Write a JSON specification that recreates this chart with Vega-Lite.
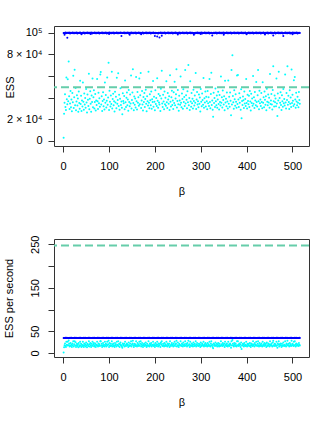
{
"$schema": "https://vega.github.io/schema/vega-lite/v6.json",
"padding": {"left": 2, "top": 25, "right": 28, "bottom": 18},
"bounds": "flush",
"spacing": 93,
"background": "white",
"config": {
 "view": {"stroke": "#333", "strokeWidth": 1},
 "axis": {"labelFont": "Liberation Sans", "titleFont": "Liberation Sans", "labelFontSize": 11, "titleFontSize": 11, "titleFontWeight": "normal", "labelColor": "#000", "titleColor": "#000", "tickColor": "#333", "domain": false, "grid": false, "tickSize": 6}
},
"datasets": {"d": [
{"b":1,"c":3000,"d":1.2,"u":99800,"v":34.6},{"b":2,"c":25100,"d":13,"u":99600,"v":34.4},{"b":3,"c":35200,"d":18,"u":98200,"v":34.7},{"b":4,"c":43200,"d":22,"u":99700,"v":34.5},
{"b":5,"c":31500,"d":16,"u":100100,"v":34.8},{"b":6,"c":28700,"d":14,"u":99500,"v":34.3},{"b":7,"c":58600,"d":26,"u":99800,"v":34.6},{"b":8,"c":38600,"d":19,"u":99900,"v":34.9},
{"b":9,"c":33900,"d":17,"u":95300,"v":34.5},{"b":10,"c":57000,"d":26,"u":100000,"v":34.7},{"b":11,"c":36800,"d":18,"u":99700,"v":34.6},{"b":12,"c":73500,"d":29,"u":99600,"v":34.4},
{"b":13,"c":41300,"d":21,"u":100200,"v":34.7},{"b":14,"c":29600,"d":15,"u":99800,"v":34.5},{"b":15,"c":34700,"d":17,"u":99300,"v":34.8},{"b":16,"c":46200,"d":23,"u":99900,"v":34.3},
{"b":17,"c":31200,"d":16,"u":99800,"v":34.6},{"b":18,"c":38200,"d":19,"u":99600,"v":34.9},{"b":19,"c":27400,"d":14,"u":99900,"v":34.5},{"b":20,"c":44300,"d":22,"u":99700,"v":34.7},
{"b":21,"c":35800,"d":18,"u":100100,"v":34.6},{"b":22,"c":60300,"d":27,"u":99500,"v":34.4},{"b":23,"c":30400,"d":15,"u":99800,"v":34.7},{"b":24,"c":40400,"d":20,"u":99900,"v":34.5},
{"b":25,"c":65800,"d":27,"u":99400,"v":34.8},{"b":26,"c":33100,"d":17,"u":100000,"v":34.3},{"b":27,"c":49000,"d":25,"u":99700,"v":34.6},{"b":28,"c":28300,"d":14,"u":99600,"v":34.9},
{"b":29,"c":36500,"d":18,"u":100200,"v":34.5},{"b":30,"c":42300,"d":21,"u":99800,"v":34.7},{"b":31,"c":32700,"d":16,"u":99300,"v":34.6},{"b":32,"c":39300,"d":20,"u":99900,"v":34.4},
{"b":33,"c":26900,"d":13,"u":99800,"v":34.7},{"b":34,"c":45700,"d":23,"u":99600,"v":34.5},{"b":35,"c":35100,"d":18,"u":99900,"v":34.8},{"b":36,"c":29800,"d":15,"u":99700,"v":34.3},
{"b":37,"c":55600,"d":26,"u":100100,"v":34.6},{"b":38,"c":34200,"d":17,"u":99500,"v":34.9},{"b":39,"c":41700,"d":21,"u":99800,"v":34.5},{"b":40,"c":27800,"d":14,"u":98500,"v":34.7},
{"b":41,"c":37300,"d":19,"u":99400,"v":34.6},{"b":42,"c":31900,"d":16,"u":100000,"v":34.4},{"b":43,"c":54000,"d":26,"u":99700,"v":34.7},{"b":44,"c":36300,"d":18,"u":99600,"v":34.5},
{"b":45,"c":28900,"d":14,"u":100200,"v":34.8},{"b":46,"c":43900,"d":22,"u":99800,"v":34.3},{"b":47,"c":33600,"d":17,"u":99300,"v":34.6},{"b":48,"c":39700,"d":20,"u":99900,"v":34.9},
{"b":49,"c":30700,"d":15,"u":99800,"v":34.5},{"b":50,"c":47900,"d":24,"u":99600,"v":34.7},{"b":51,"c":35600,"d":18,"u":99900,"v":34.6},{"b":52,"c":26400,"d":13,"u":99700,"v":34.4},
{"b":53,"c":42900,"d":21,"u":100100,"v":34.7},{"b":54,"c":38000,"d":19,"u":99500,"v":34.5},{"b":55,"c":32300,"d":16,"u":99800,"v":34.8},{"b":56,"c":62000,"d":27,"u":99900,"v":34.3},
{"b":57,"c":29300,"d":15,"u":99400,"v":34.6},{"b":58,"c":39000,"d":20,"u":100000,"v":34.9},{"b":59,"c":46000,"d":23,"u":99700,"v":34.5},{"b":60,"c":34500,"d":17,"u":98800,"v":34.7},
{"b":61,"c":27100,"d":14,"u":100200,"v":34.6},{"b":62,"c":41900,"d":21,"u":99800,"v":34.4},{"b":63,"c":36100,"d":18,"u":99300,"v":34.7},{"b":64,"c":57700,"d":26,"u":99900,"v":34.5},
{"b":65,"c":31100,"d":16,"u":99800,"v":34.8},{"b":66,"c":40500,"d":20,"u":99600,"v":34.3},{"b":67,"c":46900,"d":23,"u":99900,"v":34.6},{"b":68,"c":30100,"d":15,"u":99700,"v":34.9},
{"b":69,"c":35900,"d":18,"u":100100,"v":34.5},{"b":70,"c":43400,"d":22,"u":99500,"v":34.7},{"b":71,"c":28200,"d":14,"u":99800,"v":34.6},{"b":72,"c":37500,"d":19,"u":99900,"v":34.4},
{"b":73,"c":33200,"d":17,"u":99400,"v":34.7},{"b":74,"c":57300,"d":26,"u":100000,"v":34.5},{"b":75,"c":36600,"d":18,"u":99700,"v":34.8},{"b":76,"c":29500,"d":15,"u":99600,"v":34.3},
{"b":77,"c":44500,"d":22,"u":100200,"v":34.6},{"b":78,"c":34800,"d":17,"u":99800,"v":34.9},{"b":79,"c":39500,"d":20,"u":99300,"v":34.5},{"b":80,"c":31600,"d":16,"u":99900,"v":34.7},
{"b":81,"c":61400,"d":27,"u":99800,"v":34.6},{"b":82,"c":63700,"d":27,"u":99600,"v":34.4},{"b":83,"c":33700,"d":17,"u":99900,"v":34.7},{"b":84,"c":41200,"d":21,"u":99700,"v":34.5},
{"b":85,"c":27600,"d":14,"u":100100,"v":34.8},{"b":86,"c":36900,"d":18,"u":99500,"v":34.3},{"b":87,"c":45100,"d":23,"u":99800,"v":34.6},{"b":88,"c":32100,"d":16,"u":99900,"v":34.9},
{"b":89,"c":38400,"d":19,"u":99400,"v":34.5},{"b":90,"c":29100,"d":15,"u":100000,"v":34.7},{"b":91,"c":54000,"d":26,"u":99700,"v":34.6},{"b":92,"c":35300,"d":18,"u":99600,"v":34.4},
{"b":93,"c":42500,"d":21,"u":100200,"v":34.7},{"b":94,"c":30900,"d":15,"u":99800,"v":34.5},{"b":95,"c":37100,"d":19,"u":99300,"v":34.8},{"b":96,"c":58600,"d":26,"u":99900,"v":34.3},
{"b":97,"c":33400,"d":17,"u":99800,"v":34.6},{"b":98,"c":40100,"d":20,"u":99600,"v":34.9},{"b":99,"c":72300,"d":28,"u":99900,"v":34.5},{"b":100,"c":28600,"d":14,"u":98700,"v":34.7},
{"b":101,"c":46500,"d":23,"u":100100,"v":34.6},{"b":102,"c":36200,"d":18,"u":99500,"v":34.4},{"b":103,"c":31800,"d":16,"u":99800,"v":34.7},{"b":104,"c":42100,"d":21,"u":99900,"v":34.5},
{"b":105,"c":34100,"d":17,"u":99400,"v":34.8},{"b":106,"c":63900,"d":27,"u":100000,"v":34.3},{"b":107,"c":29900,"d":15,"u":99700,"v":34.6},{"b":108,"c":38700,"d":19,"u":99600,"v":34.9},
{"b":109,"c":43600,"d":22,"u":100200,"v":34.5},{"b":110,"c":32900,"d":16,"u":99800,"v":34.7},{"b":111,"c":36700,"d":18,"u":99300,"v":34.6},{"b":112,"c":27300,"d":14,"u":99900,"v":34.4},
{"b":113,"c":45500,"d":23,"u":99800,"v":34.7},{"b":114,"c":35500,"d":18,"u":99600,"v":34.5},{"b":115,"c":40800,"d":20,"u":99900,"v":34.8},{"b":116,"c":30300,"d":15,"u":99700,"v":34.3},
{"b":117,"c":58500,"d":26,"u":100100,"v":34.6},{"b":118,"c":34400,"d":17,"u":99500,"v":34.9},{"b":119,"c":37800,"d":19,"u":99800,"v":34.5},{"b":120,"c":62500,"d":27,"u":99900,"v":34.7},
{"b":121,"c":32400,"d":16,"u":99400,"v":34.6},{"b":122,"c":42700,"d":21,"u":100000,"v":34.4},{"b":123,"c":28800,"d":14,"u":99700,"v":34.7},{"b":124,"c":39100,"d":20,"u":99600,"v":34.5},
{"b":125,"c":48600,"d":24,"u":100200,"v":34.8},{"b":126,"c":33300,"d":17,"u":99800,"v":34.3},{"b":127,"c":36400,"d":18,"u":97000,"v":34.6},{"b":128,"c":30600,"d":15,"u":99900,"v":34.9},
{"b":129,"c":24600,"d":12,"u":99800,"v":34.5},{"b":130,"c":44000,"d":22,"u":99600,"v":34.7},{"b":131,"c":37000,"d":19,"u":99900,"v":34.6},{"b":132,"c":34900,"d":17,"u":99700,"v":34.4},
{"b":133,"c":41600,"d":21,"u":100100,"v":34.7},{"b":134,"c":29400,"d":15,"u":99500,"v":34.5},{"b":135,"c":55900,"d":26,"u":99800,"v":34.8},{"b":136,"c":35700,"d":18,"u":99900,"v":34.3},
{"b":137,"c":31300,"d":16,"u":99400,"v":34.6},{"b":138,"c":39900,"d":20,"u":100000,"v":34.9},{"b":139,"c":44800,"d":22,"u":99700,"v":34.5},{"b":140,"c":33000,"d":17,"u":99600,"v":34.7},
{"b":141,"c":38300,"d":19,"u":100200,"v":34.6},{"b":142,"c":27900,"d":14,"u":99800,"v":34.4},{"b":143,"c":47100,"d":24,"u":99300,"v":34.7},{"b":144,"c":36000,"d":18,"u":99900,"v":34.5},
{"b":145,"c":32000,"d":16,"u":98000,"v":34.8},{"b":146,"c":43000,"d":22,"u":99600,"v":34.3},{"b":147,"c":34600,"d":17,"u":99900,"v":34.6},{"b":148,"c":60500,"d":27,"u":99700,"v":34.9},
{"b":149,"c":30000,"d":15,"u":100100,"v":34.5},{"b":150,"c":37900,"d":19,"u":99500,"v":34.7},{"b":151,"c":44700,"d":22,"u":99800,"v":34.6},{"b":152,"c":66200,"d":28,"u":99900,"v":34.4},
{"b":153,"c":35000,"d":18,"u":99400,"v":34.7},{"b":154,"c":28500,"d":14,"u":100000,"v":34.5},{"b":155,"c":41000,"d":21,"u":99700,"v":34.8},{"b":156,"c":33500,"d":17,"u":99600,"v":34.3},
{"b":157,"c":39200,"d":20,"u":100200,"v":34.6},{"b":158,"c":31000,"d":16,"u":99800,"v":34.9},{"b":159,"c":59200,"d":27,"u":99300,"v":34.5},{"b":160,"c":36600,"d":18,"u":99900,"v":34.7},
{"b":161,"c":29000,"d":15,"u":99800,"v":34.6},{"b":162,"c":45200,"d":23,"u":99600,"v":34.4},{"b":163,"c":35400,"d":18,"u":99900,"v":34.7},{"b":164,"c":40300,"d":20,"u":99700,"v":34.5},
{"b":165,"c":32600,"d":16,"u":100100,"v":34.8},{"b":166,"c":57700,"d":26,"u":99500,"v":34.3},{"b":167,"c":34000,"d":17,"u":99800,"v":34.6},{"b":168,"c":42200,"d":21,"u":99900,"v":34.9},
{"b":169,"c":62800,"d":27,"u":99400,"v":34.5},{"b":170,"c":30500,"d":15,"u":98600,"v":34.7},{"b":171,"c":37400,"d":19,"u":99700,"v":34.6},{"b":172,"c":46100,"d":23,"u":99600,"v":34.4},
{"b":173,"c":33800,"d":17,"u":100200,"v":34.7},{"b":174,"c":28100,"d":14,"u":99800,"v":34.5},{"b":175,"c":40600,"d":20,"u":99300,"v":34.8},{"b":176,"c":36100,"d":18,"u":99900,"v":34.3},
{"b":177,"c":44400,"d":22,"u":99800,"v":34.6},{"b":178,"c":31400,"d":16,"u":99600,"v":34.9},{"b":179,"c":38800,"d":19,"u":99900,"v":34.5},{"b":180,"c":47400,"d":24,"u":99700,"v":34.7},
{"b":181,"c":34300,"d":17,"u":100100,"v":34.6},{"b":182,"c":27500,"d":14,"u":99500,"v":34.4},{"b":183,"c":41400,"d":21,"u":99800,"v":34.7},{"b":184,"c":36800,"d":18,"u":99900,"v":34.5},
{"b":185,"c":32800,"d":16,"u":99400,"v":34.8},{"b":186,"c":63900,"d":27,"u":100000,"v":34.3},{"b":187,"c":35200,"d":18,"u":99700,"v":34.6},{"b":188,"c":30200,"d":15,"u":99600,"v":34.9},
{"b":189,"c":43100,"d":22,"u":100200,"v":34.5},{"b":190,"c":37700,"d":19,"u":99800,"v":34.7},{"b":191,"c":33100,"d":17,"u":99300,"v":34.6},{"b":192,"c":45800,"d":23,"u":99900,"v":34.4},
{"b":193,"c":29700,"d":15,"u":99800,"v":34.7},{"b":194,"c":38600,"d":19,"u":99600,"v":34.5},{"b":195,"c":35900,"d":18,"u":99900,"v":34.8},{"b":196,"c":55500,"d":26,"u":99700,"v":34.3},
{"b":197,"c":31700,"d":16,"u":100100,"v":34.6},{"b":198,"c":40900,"d":20,"u":99500,"v":34.9},{"b":199,"c":36300,"d":18,"u":99800,"v":34.5},{"b":200,"c":28400,"d":14,"u":97000,"v":34.7},
{"b":201,"c":46800,"d":23,"u":99400,"v":34.6},{"b":202,"c":34100,"d":17,"u":100000,"v":34.4},{"b":203,"c":39600,"d":20,"u":99700,"v":34.7},{"b":204,"c":32200,"d":16,"u":99600,"v":34.5},
{"b":205,"c":57900,"d":26,"u":96500,"v":34.8},{"b":206,"c":37100,"d":19,"u":99800,"v":34.3},{"b":207,"c":30800,"d":15,"u":99300,"v":34.6},{"b":208,"c":43500,"d":22,"u":99900,"v":34.9},
{"b":209,"c":35600,"d":18,"u":99800,"v":34.5},{"b":210,"c":33600,"d":17,"u":95500,"v":34.7},{"b":211,"c":41800,"d":21,"u":99900,"v":34.6},{"b":212,"c":27700,"d":14,"u":99700,"v":34.4},
{"b":213,"c":48300,"d":24,"u":100100,"v":34.7},{"b":214,"c":39300,"d":20,"u":99500,"v":34.5},{"b":215,"c":64800,"d":27,"u":97200,"v":34.8},{"b":216,"c":34700,"d":17,"u":99900,"v":34.3},
{"b":217,"c":31500,"d":16,"u":99400,"v":34.6},{"b":218,"c":42600,"d":21,"u":100000,"v":34.9},{"b":219,"c":36500,"d":18,"u":99700,"v":34.5},{"b":220,"c":29200,"d":15,"u":99600,"v":34.7},
{"b":221,"c":45600,"d":23,"u":100200,"v":34.6},{"b":222,"c":33900,"d":17,"u":99800,"v":34.4},{"b":223,"c":40000,"d":20,"u":99300,"v":34.7},{"b":224,"c":32500,"d":16,"u":99900,"v":34.5},
{"b":225,"c":55200,"d":26,"u":99800,"v":34.8},{"b":226,"c":35800,"d":18,"u":99600,"v":34.3},{"b":227,"c":30400,"d":15,"u":99900,"v":34.6},{"b":228,"c":44200,"d":22,"u":99700,"v":34.9},
{"b":229,"c":38200,"d":19,"u":100100,"v":34.5},{"b":230,"c":34400,"d":17,"u":99500,"v":34.7},{"b":231,"c":41300,"d":21,"u":99800,"v":34.6},{"b":232,"c":28700,"d":14,"u":99900,"v":34.4},
{"b":233,"c":60800,"d":27,"u":99400,"v":34.7},{"b":234,"c":36200,"d":18,"u":100000,"v":34.5},{"b":235,"c":31900,"d":16,"u":99700,"v":34.8},{"b":236,"c":40400,"d":20,"u":99600,"v":34.3},
{"b":237,"c":46400,"d":23,"u":100200,"v":34.6},{"b":238,"c":33200,"d":17,"u":99800,"v":34.9},{"b":239,"c":37500,"d":19,"u":99300,"v":34.5},{"b":240,"c":29600,"d":15,"u":99900,"v":34.7},
{"b":241,"c":44900,"d":22,"u":99800,"v":34.6},{"b":242,"c":35100,"d":18,"u":99600,"v":34.4},{"b":243,"c":54800,"d":26,"u":99900,"v":34.7},{"b":244,"c":32900,"d":16,"u":99700,"v":34.5},
{"b":245,"c":39200,"d":20,"u":100100,"v":34.8},{"b":246,"c":43200,"d":22,"u":99500,"v":34.3},{"b":247,"c":66200,"d":28,"u":99800,"v":34.6},{"b":248,"c":30900,"d":15,"u":99900,"v":34.9},
{"b":249,"c":36900,"d":18,"u":99400,"v":34.5},{"b":250,"c":47000,"d":24,"u":98400,"v":34.7},{"b":251,"c":34000,"d":17,"u":99700,"v":34.6},{"b":252,"c":28000,"d":14,"u":99600,"v":34.4},
{"b":253,"c":41700,"d":21,"u":100200,"v":34.7},{"b":254,"c":37300,"d":19,"u":99800,"v":34.5},{"b":255,"c":33400,"d":17,"u":99300,"v":34.8},{"b":256,"c":59600,"d":27,"u":99900,"v":34.3},
{"b":257,"c":35400,"d":18,"u":99800,"v":34.6},{"b":258,"c":31100,"d":16,"u":99600,"v":34.9},{"b":259,"c":43800,"d":22,"u":99900,"v":34.5},{"b":260,"c":38700,"d":19,"u":99700,"v":34.7},
{"b":261,"c":29800,"d":15,"u":100100,"v":34.6},{"b":262,"c":47800,"d":24,"u":99500,"v":34.4},{"b":263,"c":36000,"d":18,"u":99800,"v":34.7},{"b":264,"c":40600,"d":20,"u":99900,"v":34.5},
{"b":265,"c":32300,"d":16,"u":99400,"v":34.8},{"b":266,"c":65500,"d":27,"u":100000,"v":34.3},{"b":267,"c":34600,"d":17,"u":99700,"v":34.6},{"b":268,"c":42300,"d":21,"u":99600,"v":34.9},
{"b":269,"c":38000,"d":19,"u":100200,"v":34.5},{"b":270,"c":30200,"d":15,"u":99800,"v":34.7},{"b":271,"c":46000,"d":23,"u":99300,"v":34.6},{"b":272,"c":35700,"d":18,"u":99900,"v":34.4},
{"b":273,"c":70200,"d":28,"u":99800,"v":34.7},{"b":274,"c":33100,"d":17,"u":99600,"v":34.5},{"b":275,"c":39700,"d":20,"u":99900,"v":34.8},{"b":276,"c":28600,"d":14,"u":99700,"v":34.3},
{"b":277,"c":55100,"d":26,"u":100100,"v":34.6},{"b":278,"c":36400,"d":18,"u":99500,"v":34.9},{"b":279,"c":31600,"d":16,"u":99800,"v":34.5},{"b":280,"c":44300,"d":22,"u":99900,"v":34.7},
{"b":281,"c":34900,"d":17,"u":99400,"v":34.6},{"b":282,"c":39000,"d":20,"u":100000,"v":34.4},{"b":283,"c":30000,"d":15,"u":99700,"v":34.7},{"b":284,"c":47300,"d":24,"u":99600,"v":34.5},
{"b":285,"c":37000,"d":19,"u":98000,"v":34.8},{"b":286,"c":32700,"d":16,"u":99800,"v":34.3},{"b":287,"c":42100,"d":21,"u":99300,"v":34.6},{"b":288,"c":35300,"d":18,"u":99900,"v":34.9},
{"b":289,"c":62700,"d":27,"u":99800,"v":34.5},{"b":290,"c":29500,"d":15,"u":99600,"v":34.7},{"b":291,"c":38400,"d":19,"u":99900,"v":34.6},{"b":292,"c":45300,"d":23,"u":99700,"v":34.4},
{"b":293,"c":33700,"d":17,"u":100100,"v":34.7},{"b":294,"c":36700,"d":18,"u":99500,"v":34.5},{"b":295,"c":31200,"d":16,"u":99800,"v":34.8},{"b":296,"c":42900,"d":21,"u":99900,"v":34.3},
{"b":297,"c":34300,"d":17,"u":99400,"v":34.6},{"b":298,"c":40100,"d":20,"u":100000,"v":34.9},{"b":299,"c":27200,"d":14,"u":99700,"v":34.5},{"b":300,"c":48100,"d":24,"u":98700,"v":34.7},
{"b":301,"c":36300,"d":18,"u":100200,"v":34.6},{"b":302,"c":32000,"d":16,"u":99800,"v":34.4},{"b":303,"c":43900,"d":22,"u":99300,"v":34.7},{"b":304,"c":37800,"d":19,"u":99900,"v":34.5},
{"b":305,"c":33500,"d":17,"u":99800,"v":34.8},{"b":306,"c":58200,"d":26,"u":99600,"v":34.3},{"b":307,"c":30700,"d":15,"u":99900,"v":34.6},{"b":308,"c":39500,"d":20,"u":99700,"v":34.9},
{"b":309,"c":35500,"d":18,"u":100100,"v":34.5},{"b":310,"c":45700,"d":23,"u":99500,"v":34.7},{"b":311,"c":31800,"d":16,"u":99800,"v":34.6},{"b":312,"c":40900,"d":20,"u":99900,"v":34.4},
{"b":313,"c":36600,"d":18,"u":99400,"v":34.7},{"b":314,"c":29300,"d":15,"u":100000,"v":34.5},{"b":315,"c":46200,"d":23,"u":99700,"v":34.8},{"b":316,"c":34800,"d":17,"u":99600,"v":34.3},
{"b":317,"c":40500,"d":20,"u":100200,"v":34.6},{"b":318,"c":32400,"d":16,"u":99800,"v":34.9},{"b":319,"c":57300,"d":26,"u":99300,"v":34.5},{"b":320,"c":35900,"d":18,"u":99900,"v":34.7},
{"b":321,"c":30300,"d":15,"u":99800,"v":34.6},{"b":322,"c":43400,"d":22,"u":99600,"v":34.4},{"b":323,"c":63000,"d":27,"u":99900,"v":34.7},{"b":324,"c":33300,"d":17,"u":99700,"v":34.5},
{"b":325,"c":37400,"d":19,"u":97500,"v":34.8},{"b":326,"c":28900,"d":14,"u":99500,"v":34.3},{"b":327,"c":22500,"d":11,"u":99800,"v":34.6},{"b":328,"c":44500,"d":22,"u":99900,"v":34.9},
{"b":329,"c":35000,"d":18,"u":99400,"v":34.5},{"b":330,"c":39600,"d":20,"u":100000,"v":34.7},{"b":331,"c":31400,"d":16,"u":99700,"v":34.6},{"b":332,"c":48400,"d":24,"u":99600,"v":34.4},
{"b":333,"c":36800,"d":18,"u":100200,"v":34.7},{"b":334,"c":33000,"d":17,"u":99800,"v":34.5},{"b":335,"c":41900,"d":21,"u":99300,"v":34.8},{"b":336,"c":30600,"d":15,"u":99900,"v":34.3},
{"b":337,"c":38300,"d":19,"u":99800,"v":34.6},{"b":338,"c":45500,"d":23,"u":99600,"v":34.9},{"b":339,"c":34200,"d":17,"u":99900,"v":34.5},{"b":340,"c":29000,"d":15,"u":99700,"v":34.7},
{"b":341,"c":42500,"d":21,"u":100100,"v":34.6},{"b":342,"c":36100,"d":18,"u":99500,"v":34.4},{"b":343,"c":32800,"d":16,"u":99800,"v":34.7},{"b":344,"c":59600,"d":27,"u":99900,"v":34.5},
{"b":345,"c":35200,"d":18,"u":99400,"v":34.8},{"b":346,"c":40300,"d":20,"u":100000,"v":34.3},{"b":347,"c":31000,"d":16,"u":99700,"v":34.6},{"b":348,"c":46600,"d":23,"u":99600,"v":34.9},
{"b":349,"c":37900,"d":19,"u":100200,"v":34.5},{"b":350,"c":33800,"d":17,"u":98000,"v":34.7},{"b":351,"c":41200,"d":21,"u":99300,"v":34.6},{"b":352,"c":28300,"d":14,"u":99900,"v":34.4},
{"b":353,"c":55700,"d":26,"u":99800,"v":34.7},{"b":354,"c":35600,"d":18,"u":99600,"v":34.5},{"b":355,"c":39100,"d":20,"u":99900,"v":34.8},{"b":356,"c":32100,"d":16,"u":99700,"v":34.3},
{"b":357,"c":44700,"d":22,"u":100100,"v":34.6},{"b":358,"c":36500,"d":18,"u":99500,"v":34.9},{"b":359,"c":30100,"d":15,"u":99800,"v":34.5},{"b":360,"c":55900,"d":26,"u":99900,"v":34.7},
{"b":361,"c":34500,"d":17,"u":99400,"v":34.6},{"b":362,"c":40800,"d":20,"u":100000,"v":34.4},{"b":363,"c":31700,"d":16,"u":99700,"v":34.7},{"b":364,"c":44800,"d":22,"u":99600,"v":34.5},
{"b":365,"c":37100,"d":19,"u":100200,"v":34.8},{"b":366,"c":23700,"d":12,"u":99800,"v":34.3},{"b":367,"c":65500,"d":27,"u":99300,"v":34.6},{"b":368,"c":33600,"d":17,"u":99900,"v":34.9},
{"b":369,"c":79100,"d":30,"u":99800,"v":34.5},{"b":370,"c":41600,"d":21,"u":99600,"v":34.7},{"b":371,"c":35800,"d":18,"u":99900,"v":34.6},{"b":372,"c":29700,"d":15,"u":99700,"v":34.4},
{"b":373,"c":46900,"d":23,"u":100100,"v":34.7},{"b":374,"c":38600,"d":19,"u":99500,"v":34.5},{"b":375,"c":32600,"d":16,"u":99800,"v":34.8},{"b":376,"c":43100,"d":22,"u":99900,"v":34.3},
{"b":377,"c":36200,"d":18,"u":99400,"v":34.6},{"b":378,"c":30800,"d":15,"u":100000,"v":34.9},{"b":379,"c":60400,"d":27,"u":99700,"v":34.5},{"b":380,"c":34100,"d":17,"u":99600,"v":34.7},
{"b":381,"c":61000,"d":27,"u":100200,"v":34.6},{"b":382,"c":38200,"d":19,"u":99800,"v":34.4},{"b":383,"c":31300,"d":16,"u":99300,"v":34.7},{"b":384,"c":44000,"d":22,"u":99900,"v":34.5},
{"b":385,"c":35400,"d":18,"u":99800,"v":34.8},{"b":386,"c":40000,"d":20,"u":99600,"v":34.3},{"b":387,"c":28800,"d":14,"u":99900,"v":34.6},{"b":388,"c":47700,"d":24,"u":99700,"v":34.9},
{"b":389,"c":21000,"d":9,"u":100100,"v":34.5},{"b":390,"c":36900,"d":18,"u":99500,"v":34.7},{"b":391,"c":33200,"d":17,"u":99800,"v":34.6},{"b":392,"c":41000,"d":21,"u":99900,"v":34.4},
{"b":393,"c":37700,"d":19,"u":99400,"v":34.7},{"b":394,"c":30500,"d":15,"u":100000,"v":34.5},{"b":395,"c":45800,"d":23,"u":99700,"v":34.8},{"b":396,"c":34700,"d":17,"u":99600,"v":34.3},
{"b":397,"c":38800,"d":19,"u":100200,"v":34.6},{"b":398,"c":32200,"d":16,"u":99800,"v":34.9},{"b":399,"c":57300,"d":26,"u":99300,"v":34.5},{"b":400,"c":35100,"d":18,"u":98500,"v":34.7},
{"b":401,"c":29900,"d":15,"u":99800,"v":34.6},{"b":402,"c":42700,"d":21,"u":99600,"v":34.4},{"b":403,"c":37000,"d":19,"u":99900,"v":34.7},{"b":404,"c":33900,"d":17,"u":99700,"v":34.5},
{"b":405,"c":41800,"d":21,"u":100100,"v":34.8},{"b":406,"c":31500,"d":16,"u":99500,"v":34.3},{"b":407,"c":46100,"d":23,"u":99800,"v":34.6},{"b":408,"c":36400,"d":18,"u":99900,"v":34.9},
{"b":409,"c":28200,"d":14,"u":99400,"v":34.5},{"b":410,"c":43600,"d":22,"u":100000,"v":34.7},{"b":411,"c":35000,"d":18,"u":99700,"v":34.6},{"b":412,"c":39300,"d":20,"u":99600,"v":34.4},
{"b":413,"c":32500,"d":16,"u":100200,"v":34.7},{"b":414,"c":60000,"d":27,"u":99800,"v":34.5},{"b":415,"c":34400,"d":17,"u":99300,"v":34.8},{"b":416,"c":40400,"d":20,"u":99900,"v":34.3},
{"b":417,"c":30400,"d":15,"u":99800,"v":34.6},{"b":418,"c":45200,"d":23,"u":99600,"v":34.9},{"b":419,"c":37300,"d":19,"u":99900,"v":34.5},{"b":420,"c":33100,"d":17,"u":99700,"v":34.7},
{"b":421,"c":54400,"d":26,"u":100100,"v":34.6},{"b":422,"c":35900,"d":18,"u":99500,"v":34.4},{"b":423,"c":31900,"d":16,"u":99800,"v":34.7},{"b":424,"c":42200,"d":21,"u":99900,"v":34.5},
{"b":425,"c":65500,"d":27,"u":99400,"v":34.8},{"b":426,"c":36700,"d":18,"u":100000,"v":34.3},{"b":427,"c":29400,"d":15,"u":99700,"v":34.6},{"b":428,"c":46500,"d":23,"u":99600,"v":34.9},
{"b":429,"c":34900,"d":17,"u":100200,"v":34.5},{"b":430,"c":38400,"d":19,"u":99800,"v":34.7},{"b":431,"c":32300,"d":16,"u":99300,"v":34.6},{"b":432,"c":44400,"d":22,"u":99900,"v":34.4},
{"b":433,"c":36000,"d":18,"u":99800,"v":34.7},{"b":434,"c":30200,"d":15,"u":99600,"v":34.5},{"b":435,"c":54200,"d":26,"u":99900,"v":34.8},{"b":436,"c":35300,"d":18,"u":99700,"v":34.3},
{"b":437,"c":40500,"d":20,"u":100100,"v":34.6},{"b":438,"c":31100,"d":16,"u":99500,"v":34.9},{"b":439,"c":45600,"d":23,"u":99800,"v":34.5},{"b":440,"c":38000,"d":19,"u":98300,"v":34.7},
{"b":441,"c":33400,"d":17,"u":99400,"v":34.6},{"b":442,"c":41400,"d":21,"u":100000,"v":34.4},{"b":443,"c":28500,"d":14,"u":99700,"v":34.7},{"b":444,"c":48200,"d":24,"u":99600,"v":34.5},
{"b":445,"c":36300,"d":18,"u":100200,"v":34.8},{"b":446,"c":32900,"d":16,"u":99800,"v":34.3},{"b":447,"c":43000,"d":22,"u":99300,"v":34.6},{"b":448,"c":35500,"d":18,"u":99900,"v":34.9},
{"b":449,"c":39900,"d":20,"u":99800,"v":34.5},{"b":450,"c":30700,"d":15,"u":99600,"v":34.7},{"b":451,"c":61800,"d":27,"u":99900,"v":34.6},{"b":452,"c":34200,"d":17,"u":99700,"v":34.4},
{"b":453,"c":37500,"d":19,"u":100100,"v":34.7},{"b":454,"c":43500,"d":22,"u":99500,"v":34.5},{"b":455,"c":33700,"d":17,"u":99800,"v":34.8},{"b":456,"c":29100,"d":15,"u":99900,"v":34.3},
{"b":457,"c":47000,"d":24,"u":99400,"v":34.6},{"b":458,"c":69000,"d":28,"u":97500,"v":34.9},{"b":459,"c":36600,"d":18,"u":99700,"v":34.5},{"b":460,"c":31800,"d":16,"u":99600,"v":34.7},
{"b":461,"c":42100,"d":21,"u":100200,"v":34.6},{"b":462,"c":35700,"d":18,"u":99800,"v":34.4},{"b":463,"c":39200,"d":20,"u":99300,"v":34.7},{"b":464,"c":32000,"d":16,"u":99900,"v":34.5},
{"b":465,"c":57800,"d":26,"u":99800,"v":34.8},{"b":466,"c":34600,"d":17,"u":99600,"v":34.3},{"b":467,"c":23000,"d":12,"u":99900,"v":34.6},{"b":468,"c":43800,"d":22,"u":99700,"v":34.9},
{"b":469,"c":37400,"d":19,"u":100100,"v":34.5},{"b":470,"c":64000,"d":27,"u":99500,"v":34.7},{"b":471,"c":30900,"d":15,"u":99800,"v":34.6},{"b":472,"c":39600,"d":20,"u":99900,"v":34.4},
{"b":473,"c":35200,"d":18,"u":99400,"v":34.7},{"b":474,"c":44900,"d":22,"u":100000,"v":34.5},{"b":475,"c":33300,"d":17,"u":99700,"v":34.8},{"b":476,"c":28700,"d":14,"u":99600,"v":34.3},
{"b":477,"c":42300,"d":21,"u":100200,"v":34.6},{"b":478,"c":36800,"d":18,"u":99800,"v":34.9},{"b":479,"c":31600,"d":16,"u":99300,"v":34.5},{"b":480,"c":47900,"d":24,"u":97000,"v":34.7},
{"b":481,"c":34800,"d":17,"u":99800,"v":34.6},{"b":482,"c":38700,"d":19,"u":99600,"v":34.4},{"b":483,"c":32700,"d":16,"u":99900,"v":34.7},{"b":484,"c":61400,"d":27,"u":99700,"v":34.5},
{"b":485,"c":35600,"d":18,"u":100100,"v":34.8},{"b":486,"c":30000,"d":15,"u":99500,"v":34.3},{"b":487,"c":44200,"d":22,"u":99800,"v":34.6},{"b":488,"c":37800,"d":19,"u":99900,"v":34.9},
{"b":489,"c":69000,"d":28,"u":99400,"v":34.5},{"b":490,"c":33500,"d":17,"u":100000,"v":34.7},{"b":491,"c":41700,"d":21,"u":99700,"v":34.6},{"b":492,"c":36100,"d":18,"u":99600,"v":34.4},
{"b":493,"c":29600,"d":15,"u":100200,"v":34.7},{"b":494,"c":46800,"d":23,"u":99800,"v":34.5},{"b":495,"c":34300,"d":17,"u":99300,"v":34.8},{"b":496,"c":40100,"d":20,"u":99900,"v":34.3},
{"b":497,"c":31400,"d":16,"u":99800,"v":34.6},{"b":498,"c":66000,"d":28,"u":99600,"v":34.9},{"b":499,"c":35000,"d":18,"u":99900,"v":34.5},{"b":500,"c":42600,"d":21,"u":98600,"v":34.7},
{"b":501,"c":37100,"d":19,"u":100100,"v":34.6},{"b":502,"c":32400,"d":16,"u":99500,"v":34.4},{"b":503,"c":56000,"d":26,"u":99800,"v":34.7},{"b":504,"c":34000,"d":17,"u":99900,"v":34.5},
{"b":505,"c":59000,"d":27,"u":99400,"v":34.8},{"b":506,"c":38300,"d":19,"u":100000,"v":34.3},{"b":507,"c":30600,"d":15,"u":99700,"v":34.6},{"b":508,"c":44500,"d":22,"u":99600,"v":34.9},
{"b":509,"c":36500,"d":18,"u":100200,"v":34.5},{"b":510,"c":33000,"d":17,"u":99800,"v":34.7},{"b":511,"c":40900,"d":20,"u":99300,"v":34.6},{"b":512,"c":35400,"d":18,"u":99900,"v":34.4},
{"b":513,"c":31200,"d":16,"u":99800,"v":34.7},{"b":514,"c":45300,"d":23,"u":99600,"v":34.5},{"b":515,"c":37900,"d":19,"u":99900,"v":34.8},{"b":516,"c":34500,"d":17,"u":99700,"v":34.3}
]},
"vconcat": [
 {"width": 255, "height": 120, "data": {"name": "d"},
  "layer": [
   {"mark": {"type": "circle", "size": 4, "opacity": 1, "color": "#00FFFF"},
    "encoding": {
     "x": {"field": "b", "type": "quantitative", "scale": {"domain": [-20, 536], "nice": false, "zero": false},
       "axis": {"values": [0,100,200,300,400,500], "title": "β", "labelPadding": 8, "titleY": 48, "titleBaseline": "alphabetic", "labelOverlap": false}},
     "y": {"field": "c", "type": "quantitative", "scale": {"domain": [-4617, 106170], "nice": false, "zero": false},
       "axis": {"values": [0,20000,40000,60000,80000,100000], "labelAngle": 0, "labelPadding": 6, "labelOverlap": false,
         "labelExpr": "datum.value==100000?'10⁵':datum.value==80000?'8 × 10⁴':datum.value==20000?'2 × 10⁴':datum.value==0?'0':''",
         "title": "ESS", "titleX": -44, "titleY": 61, "titleAngle": -90, "titleAlign": "center", "titleBaseline": "middle"}}
    }},
   {"mark": {"type": "circle", "size": 4, "opacity": 1, "color": "#0000FF"},
    "encoding": {
     "x": {"field": "b", "type": "quantitative",
       "axis": {"values": [0,100,200,300,400,500], "title": "β", "labelPadding": 8, "titleY": 48, "titleBaseline": "alphabetic", "labelOverlap": false}},
     "y": {"field": "u", "type": "quantitative",
       "axis": {"values": [0,20000,40000,60000,80000,100000], "labelAngle": 0, "labelPadding": 6, "labelOverlap": false,
         "labelExpr": "datum.value==100000?'10⁵':datum.value==80000?'8 × 10⁴':datum.value==20000?'2 × 10⁴':datum.value==0?'0':''",
         "title": "ESS", "titleX": -44, "titleY": 61, "titleAngle": -90, "titleAlign": "center", "titleBaseline": "middle"}}
    }},
   {"data": {"values": [{"h": 49700}]},
    "mark": {"type": "rule", "color": "#66CDAA", "strokeWidth": 2, "strokeDash": [8, 4]},
    "encoding": {"y": {"field": "h", "type": "quantitative",
       "axis": {"values": [0,20000,40000,60000,80000,100000], "labelAngle": 0, "labelPadding": 6, "labelOverlap": false,
         "labelExpr": "datum.value==100000?'10⁵':datum.value==80000?'8 × 10⁴':datum.value==20000?'2 × 10⁴':datum.value==0?'0':''",
         "title": "ESS", "titleX": -44, "titleY": 61, "titleAngle": -90, "titleAlign": "center", "titleBaseline": "middle"}}}}
  ]},
 {"width": 255, "height": 118, "data": {"name": "d"},
  "layer": [
   {"mark": {"type": "circle", "size": 4, "opacity": 1, "color": "#00FFFF"},
    "encoding": {
     "x": {"field": "b", "type": "quantitative", "scale": {"domain": [-20, 536], "nice": false, "zero": false},
       "axis": {"values": [0,100,200,300,400,500], "title": "β", "labelPadding": 8, "titleY": 48, "titleBaseline": "alphabetic", "labelOverlap": false}},
     "y": {"field": "d", "type": "quantitative", "scale": {"domain": [-9.2, 262.2], "nice": false, "zero": false},
       "axis": {"values": [0,50,100,150,200,250], "labelAngle": -90, "labelPadding": 8, "labelOverlap": false,
         "labelExpr": "datum.value==100||datum.value==200?'':datum.label",
         "title": "ESS per second", "titleX": -45, "titleY": 59, "titleAngle": -90, "titleAlign": "center", "titleBaseline": "middle"}}
    }},
   {"mark": {"type": "circle", "size": 4, "opacity": 1, "color": "#0000FF"},
    "encoding": {
     "x": {"field": "b", "type": "quantitative",
       "axis": {"values": [0,100,200,300,400,500], "title": "β", "labelPadding": 8, "titleY": 48, "titleBaseline": "alphabetic", "labelOverlap": false}},
     "y": {"field": "v", "type": "quantitative",
       "axis": {"values": [0,50,100,150,200,250], "labelAngle": -90, "labelPadding": 8, "labelOverlap": false,
         "labelExpr": "datum.value==100||datum.value==200?'':datum.label",
         "title": "ESS per second", "titleX": -45, "titleY": 59, "titleAngle": -90, "titleAlign": "center", "titleBaseline": "middle"}}
    }},
   {"data": {"values": [{"h": 247}]},
    "mark": {"type": "rule", "color": "#66CDAA", "strokeWidth": 2, "strokeDash": [8, 4]},
    "encoding": {"y": {"field": "h", "type": "quantitative",
       "axis": {"values": [0,50,100,150,200,250], "labelAngle": -90, "labelPadding": 8, "labelOverlap": false,
         "labelExpr": "datum.value==100||datum.value==200?'':datum.label",
         "title": "ESS per second", "titleX": -45, "titleY": 59, "titleAngle": -90, "titleAlign": "center", "titleBaseline": "middle"}}}}
  ]}
]
}
